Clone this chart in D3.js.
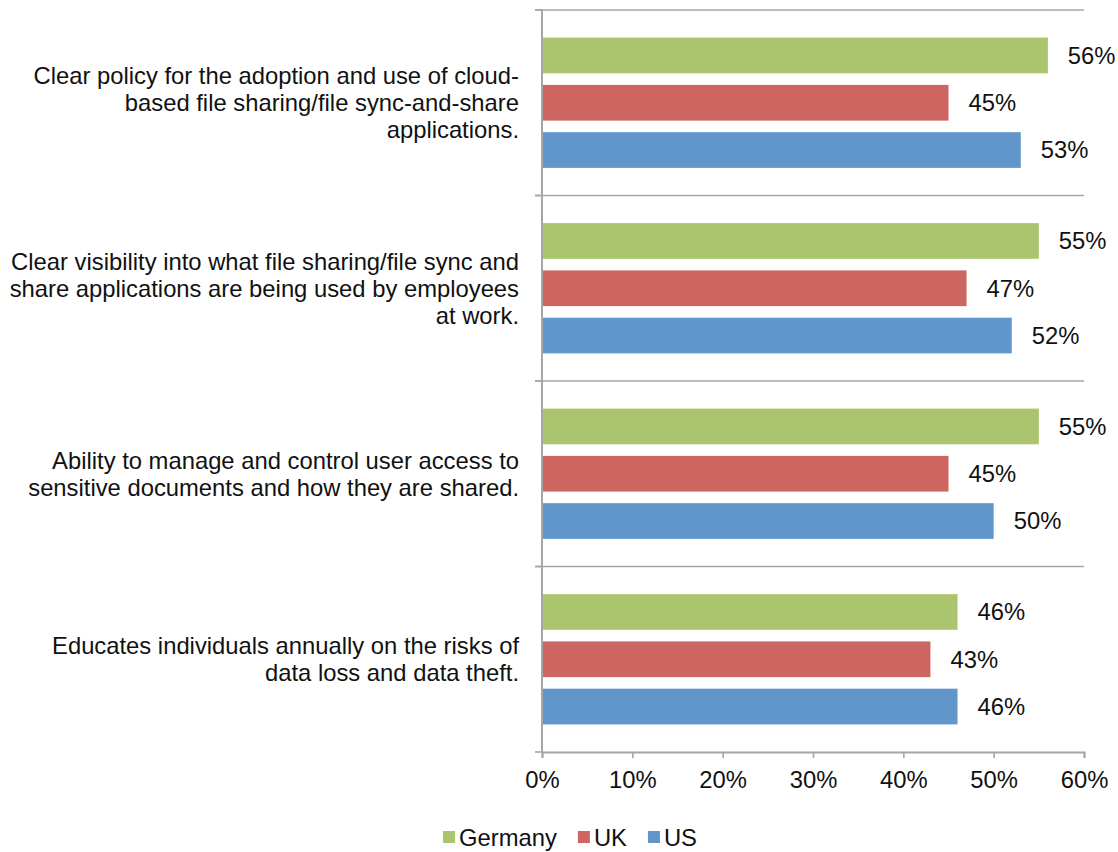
<!DOCTYPE html>
<html>
<head>
<meta charset="utf-8">
<script src="https://cdn.jsdelivr.net/npm/d3@7"></script>
<style>
  html, body { margin: 0; padding: 0; background: #ffffff; }
  svg { display: block; font-family: "Liberation Sans", Arial, sans-serif; }
</style>
</head>
<body>
<svg id="chart" width="1118" height="852"></svg>
<script>
// Survey statements, each split into the lines shown beside its group of bars
const categories = [
  "Clear policy for the adoption and use of cloud-based file sharing/file sync-and-share applications.",
  "Clear visibility into what file sharing/file sync and share applications are being used by employees at work.",
  "Ability to manage and control user access to sensitive documents and how they are shared.",
  "Educates individuals annually on the risks of data loss and data theft."
];
const categoryLines = [
  ["Clear policy for the adoption and use of cloud-", "based file sharing/file sync-and-share", "applications."],
  ["Clear visibility into what file sharing/file sync and", "share applications are being used by employees", "at work."],
  ["Ability to manage and control user access to", "sensitive documents and how they are shared."],
  ["Educates individuals annually on the risks of", "data loss and data theft."]
];
const seriesNames = ["Germany", "UK", "US"];
const germany = [0.56, 0.55, 0.55, 0.46];
const uk      = [0.45, 0.47, 0.45, 0.43];
const us      = [0.53, 0.52, 0.50, 0.46];
const xTicks  = [0, 0.1, 0.2, 0.3, 0.4, 0.5, 0.6];

const seriesValues = [germany, uk, us];
const colors = ["#abc46e", "#cd6660", "#6096c9"];

const svg = d3.select("#chart");
const plotLeft = 542, plotRight = 1084, plotTop = 10, plotBottom = 752;
const fontSize = 23.8;
const gridColor = "#a6a6a6";
const textColor = "#111111";

const x = d3.scaleLinear().domain([0, 0.6]).range([plotLeft, plotRight]);
const y = d3.scaleBand().domain(d3.range(categories.length)).range([plotTop, plotBottom]);
const ySub = d3.scaleBand().domain(seriesNames).range([0, y.bandwidth()])
  .paddingInner(0.245).paddingOuter(0.584);

// Horizontal separators between statement groups
const bounds = d3.range(categories.length + 1).map(i => plotTop + i * y.step());
svg.append("g").selectAll("line").data(bounds.slice(0, -1)).join("line")
  .attr("x1", plotLeft - 7).attr("x2", plotRight)
  .attr("y1", d => d).attr("y2", d => d)
  .attr("stroke", gridColor).attr("stroke-width", 1.6);

// Bars
const rows = [];
categories.forEach((c, i) => {
  seriesNames.forEach((s, j) => rows.push({ cat: i, series: s, idx: j, value: seriesValues[j][i] }));
});

svg.append("g").selectAll("rect").data(rows).join("rect")
  .attr("x", x(0))
  .attr("y", d => y(d.cat) + ySub(d.series))
  .attr("width", d => x(d.value) - x(0))
  .attr("height", ySub.bandwidth())
  .attr("fill", d => colors[d.idx]);

// Value labels
svg.append("g").selectAll("text").data(rows).join("text")
  .attr("x", d => x(d.value) + 20)
  .attr("y", d => y(d.cat) + ySub(d.series) + ySub.bandwidth() / 2)
  .attr("dy", "0.35em")
  .attr("font-size", fontSize)
  .attr("fill", textColor)
  .text(d => d3.format(".0%")(d.value));

// Category axis line and its ticks
svg.append("line")
  .attr("x1", plotLeft).attr("x2", plotLeft).attr("y1", plotTop).attr("y2", plotBottom)
  .attr("stroke", gridColor).attr("stroke-width", 2);
svg.append("g").selectAll("line").data(bounds).join("line")
  .attr("x1", plotLeft - 7).attr("x2", plotLeft)
  .attr("y1", d => d).attr("y2", d => d)
  .attr("stroke", gridColor).attr("stroke-width", 1.6);

// Value axis
const xAxis = d3.axisBottom(x).tickValues(xTicks).tickFormat(d3.format(".0%"))
  .tickSize(6).tickPadding(13);
const gx = svg.append("g").attr("transform", `translate(0,${plotBottom})`).call(xAxis);
gx.select(".domain").attr("stroke", gridColor).attr("stroke-width", 2);
gx.selectAll(".tick line").attr("stroke", gridColor).attr("stroke-width", 1.6);
gx.selectAll(".tick text").attr("font-size", fontSize).attr("fill", textColor)
  .attr("font-family", "'Liberation Sans', Arial, sans-serif");

// Statement labels, right-aligned and centred on their group
const lineH = 27;
const lab = svg.append("g").selectAll("text").data(categoryLines).join("text")
  .attr("text-anchor", "end")
  .attr("font-size", fontSize)
  .attr("fill", textColor)
  .attr("y", (d, i) => y(i) + y.bandwidth() / 2);
lab.each(function(lines) {
  const t = d3.select(this);
  const baseY = +t.attr("y");
  lines.forEach((ln, k) => {
    t.append("tspan")
      .attr("x", 519)
      .attr("y", baseY + (k - (lines.length - 1) / 2) * lineH)
      .attr("dy", "0.35em")
      .text(ln);
  });
});

// Legend
const legend = svg.append("g");
let cx = 0;
seriesNames.forEach((s, j) => {
  const g = legend.append("g").attr("transform", `translate(${cx},0)`);
  g.append("rect").attr("x", 0).attr("y", -15).attr("width", 12).attr("height", 12).attr("fill", colors[j]);
  const t = g.append("text").attr("x", 16).attr("y", 0).attr("font-size", fontSize)
    .attr("fill", textColor).text(s);
  cx += 16 + t.node().getComputedTextLength() + 21;
});
const legendW = cx - 21;
legend.attr("transform", `translate(${570 - legendW / 2},846)`);
</script>
</body>
</html>
